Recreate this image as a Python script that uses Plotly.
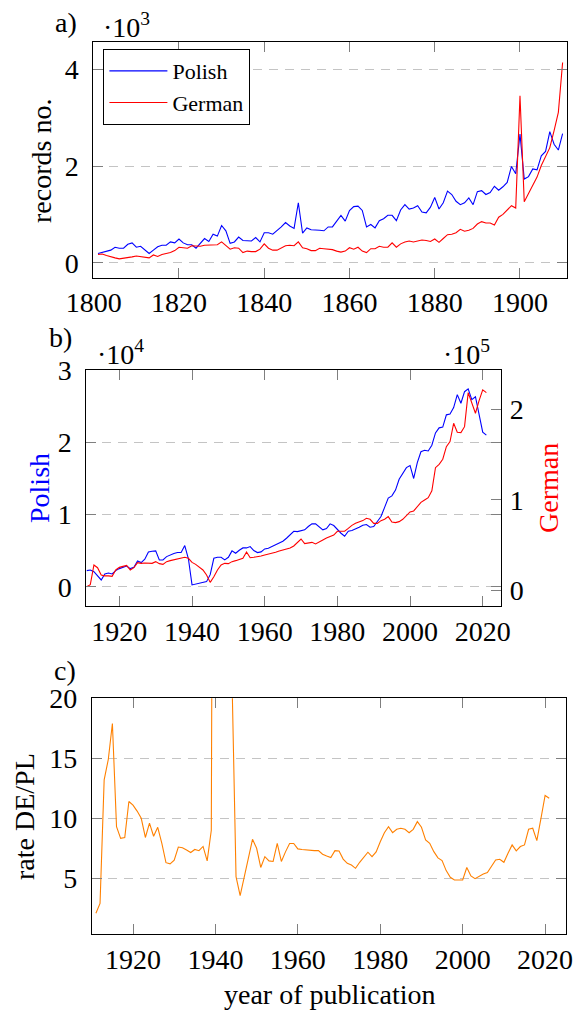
import plotly.graph_objects as go

# ---------------- data ----------------
years_a = list(range(1801, 1911))
polish_a = [
    190, 210, 230, 260, 320, 300, 300, 380, 410, 320,
    340, 270, 190, 260, 330, 360, 360, 430, 410, 490,
    410, 370, 370, 300, 400, 500, 440, 590, 550, 770,
    660, 400, 430, 530, 460, 450, 450, 520, 430, 620,
    620, 590, 660, 740, 830, 760, 710, 1240, 610, 720,
    680, 680, 670, 660, 740, 740, 850, 980, 860, 1080,
    1160, 1170, 1080, 740, 790, 720, 870, 910, 980, 980,
    870, 1090, 1200, 1110, 1130, 1180, 1050, 1030, 1150, 1350,
    1110, 1240, 1480, 1410, 1270, 1200, 1240, 1340, 1200, 1470,
    1490, 1410, 1450, 1580, 1500, 1570, 1660, 1990, 1840, 2660,
    1730, 1780, 1940, 1920, 2210, 2300, 2710, 2450, 2330, 2670,
]
german_a = [
    170, 180, 150, 120, 100, 80, 90, 100, 120, 140,
    130, 110, 100, 160, 130, 170, 190, 210, 250, 320,
    310, 300, 350, 340, 340, 360, 360, 370, 370, 430,
    350, 280, 310, 300, 210, 240, 230, 230, 280, 390,
    300, 260, 260, 310, 350, 360, 350, 430, 310, 290,
    250, 250, 300, 290, 280, 270, 240, 220, 240, 310,
    280, 320, 240, 210, 290, 290, 340, 320, 320, 410,
    320, 390, 430, 450, 430, 450, 470, 460, 440, 490,
    420, 500, 580, 590, 620, 690, 650, 670, 710, 800,
    850, 820, 820, 780, 940, 1000, 1090, 1180, 1130, 3450,
    1260, 1440, 1610, 1770, 2010, 2210, 2380, 2730, 3110, 4140,
]

years_b = list(range(1911, 2022))
polish_b = [
    2260, 2350, 2120, 1570, 970, 1800, 1940, 1800, 2260, 2540,
    2680, 2900, 2540, 2720, 3600, 3370, 3830, 4850, 4940, 4990,
    3740, 3740, 4200, 4430, 4620, 4760, 4760, 5720, 3900, 280,
    370, 510, 650, 740, 1700, 3970, 4100, 4100, 3740, 4100,
    4990, 4660, 5080, 5400, 5400, 5590, 5030, 4760, 4850, 5260,
    5360, 5590, 5860, 6090, 6330, 6740, 7200, 7700, 7660, 7820,
    7900, 8360, 8730, 8730, 8310, 7900, 8080, 8730, 8500, 7900,
    7430, 7020, 7710, 7800, 7990, 8260, 8540, 8630, 8260, 8360,
    9050, 9740, 11000, 12300, 12600, 13400, 14900, 15800, 16500, 16800,
    15000, 17200, 18700, 18900, 18800, 19600, 21300, 22000, 22100, 23800,
    23900, 24800, 26600, 25400, 27000, 27400, 25900, 26300, 24000, 21400,
    21000,
]
german_b = [
    4000, 6300, 28000, 25000, 17000, 16000, 16000, 15500, 22500, 25400,
    26500, 27600, 22500, 25000, 30600, 29800, 30200, 29800, 29800, 31700,
    29500, 28700, 31700, 32800, 33900, 34600, 35700, 36500, 35400, 30900,
    28700, 25400, 22500, 17000, 8800, 15000, 22500, 28000, 29800, 29500,
    31700, 32800, 34300, 35400, 42400, 36000, 36500, 36800, 37900, 39000,
    39800, 40900, 42000, 43500, 44600, 45700, 46800, 49000, 52700, 56700,
    51600, 52000, 53000, 51200, 53000, 55600, 57800, 59000, 61000, 65200,
    65400, 65400, 68500, 71800, 74000, 75100, 77000, 79600, 78500, 74000,
    74000, 77000, 78500, 81400, 75500, 74800, 75900, 78500, 82100, 86600,
    87700, 92400, 97200, 99800, 102400, 110000, 135500, 139200, 144800, 158700,
    164300, 184500, 174600, 174200, 180800, 218400, 207400, 195600, 209600, 221400,
    218400,
]

years_c = list(range(1911, 2022))
rate_c = [
    2.08, 2.9, 13.2, 14.9, 17.9, 9.3, 8.33, 8.4, 11.4, 11.1,
    10.6, 10.0, 8.4, 9.6, 8.5, 9.25, 7.9, 6.3, 6.2, 6.5,
    7.6, 7.55, 7.35, 7.15, 7.4, 7.3, 7.65, 6.45, 9.0, 110,
    78, 50, 35, 22, 5.14, 3.55, 5.0, 6.67, 8.25, 7.5,
    5.9, 6.8, 6.45, 6.4, 7.9, 6.4, 7.2, 7.9, 7.9, 7.45,
    7.4, 7.35, 7.33, 7.3, 7.3, 7.0, 6.85, 6.72, 7.3, 7.28,
    6.6, 6.25, 6.1, 5.83, 6.33, 6.8, 7.17, 6.8, 7.2, 8.05,
    8.8, 9.3, 8.8, 9.08, 9.17, 9.08, 8.8, 9.08, 9.72, 9.25,
    8.2, 7.92, 7.22, 6.7, 6.47, 5.64, 5.08, 4.86, 4.83, 4.86,
    5.9, 5.2, 4.97, 5.17, 5.36, 5.47, 5.97, 6.53, 6.58, 6.33,
    7.08, 7.78, 7.28, 7.64, 7.78, 9.08, 9.17, 8.14, 10.0, 11.9,
    11.67,
]

xticks_a = [1800, 1820, 1840, 1860, 1880, 1900]
xticks_bc = [1920, 1940, 1960, 1980, 2000, 2020]
yticks_a = [0, 2000, 4000]
yticklabels_a = ["0", "2", "4"]
yticks_b_left = [0, 10000, 20000, 30000]
yticklabels_b_left = ["0", "1", "2", "3"]
yticks_b_right = [0, 100000, 200000]
yticklabels_b_right = ["0", "1", "2"]
yticks_c = [5, 10, 15, 20]

# ---------------- styling ----------------
W, H = 575, 1010
FONT = "Liberation Serif, Times New Roman, serif"
BLUE, RED, ORANGE = "#0000ff", "#ff0000", "#ff8000"
TICKCOL = "#7f7f7f"
GRIDCOL = "#c4c4c4"
TICKFONT = dict(family=FONT, size=28, color="black")


def px(x):
    return x / W


def py(y):
    return 1 - y / H


common_x = dict(showline=True, linecolor="black", linewidth=1.1, mirror="ticks",
                ticks="inside", ticklen=10, tickwidth=1.1, tickcolor=TICKCOL,
                showgrid=False, zeroline=False, automargin=False,
                tickfont=TICKFONT)
common_y = dict(showline=True, linecolor="black", linewidth=1.1, mirror="ticks",
                ticks="inside", ticklen=10, tickwidth=1.1, tickcolor=TICKCOL,
                showgrid=True, gridcolor=GRIDCOL, gridwidth=1.1, griddash="9px,7px",
                zeroline=False, ticklabelstandoff=8, automargin=False,
                tickfont=TICKFONT)

fig = go.Figure()

fig.add_trace(go.Scatter(x=years_a, y=polish_a, mode="lines", name="Polish",
                         line=dict(color=BLUE, width=1.1), xaxis="x", yaxis="y"))
fig.add_trace(go.Scatter(x=years_a, y=german_a, mode="lines", name="German",
                         line=dict(color=RED, width=1.1), xaxis="x", yaxis="y"))
fig.add_trace(go.Scatter(x=years_b, y=polish_b, mode="lines", showlegend=False,
                         line=dict(color=BLUE, width=1.1), xaxis="x2", yaxis="y2"))
fig.add_trace(go.Scatter(x=years_b, y=german_b, mode="lines", showlegend=False,
                         line=dict(color=RED, width=1.1), xaxis="x2", yaxis="y3"))
fig.add_trace(go.Scatter(x=years_c, y=rate_c, mode="lines", showlegend=False,
                         line=dict(color=ORANGE, width=1.1), xaxis="x3", yaxis="y4"))

fig.update_layout(
    template="none",
    width=W, height=H, margin=dict(l=0, r=0, t=0, b=0, autoexpand=False),
    paper_bgcolor="white", plot_bgcolor="white",
    font=dict(family=FONT, size=28, color="black"),
    xaxis=dict(common_x, domain=[px(93.3), px(567.3)], range=[1799.9, 1911.1],
               tickvals=xticks_a, anchor="y"),
    yaxis=dict(common_y, domain=[py(277.7), py(42.3)], range=[-310, 4558],
               tickvals=yticks_a, ticktext=yticklabels_a, anchor="x"),
    xaxis2=dict(common_x, domain=[px(86.3), px(500.7)], range=[1910.9, 2024.95],
                tickvals=xticks_bc, anchor="y2"),
    yaxis2=dict(common_y, domain=[py(606), py(370)], range=[-2630, 30000],
                tickvals=yticks_b_left, ticktext=yticklabels_b_left, anchor="x2"),
    yaxis3=dict(overlaying="y2", side="right", anchor="x2", range=[-17300, 243400],
                tickvals=yticks_b_right, ticktext=yticklabels_b_right,
                ticks="inside", ticklen=10, tickwidth=1.1, tickcolor=TICKCOL,
                showline=False, showgrid=False, zeroline=False, ticklabelstandoff=8,
                automargin=False, tickfont=TICKFONT),
    xaxis3=dict(common_x, domain=[px(92), px(565.7)], range=[1910.05, 2025.0],
                tickvals=xticks_bc, anchor="y4"),
    yaxis4=dict(common_y, domain=[py(934.3), py(698.3)], range=[0.33, 20],
                tickvals=yticks_c, anchor="x3"),
    showlegend=True,
    legend=dict(x=px(103.3), y=py(49), xanchor="left", yanchor="top",
                bordercolor="black", borderwidth=1.1, bgcolor="white",
                font=dict(family=FONT, size=22, color="black"), itemwidth=58,
                tracegroupgap=0),
)

ann = []


def text(x, y, s, color="black", angle=0, size=28, xanchor="center", yanchor="middle"):
    ann.append(dict(x=px(x), y=py(y), xref="paper", yref="paper", text=s,
                    showarrow=False, textangle=angle, xanchor=xanchor, yanchor=yanchor,
                    font=dict(family=FONT, size=size, color=color)))


text(66, 22, "a)")
text(60, 337, "b)")
text(65, 670, "c)")
text(126, 25, "·10<sup>3</sup>")
text(120, 352, "·10<sup>4</sup>")
text(466, 352, "·10<sup>5</sup>")
text(41, 161, "records no.", angle=-90)
text(39, 488, "Polish", color=BLUE, angle=-90)
text(548, 488, "German", color=RED, angle=-90)
text(24, 817, "rate DE/PL", angle=-90)
text(329, 994, "year of publication")
fig.update_layout(annotations=ann)

fig.write_html("out.html", config={"displayModeBar": False},
               post_script="document.body.style.margin='0';document.body.style.overflow='hidden';")
